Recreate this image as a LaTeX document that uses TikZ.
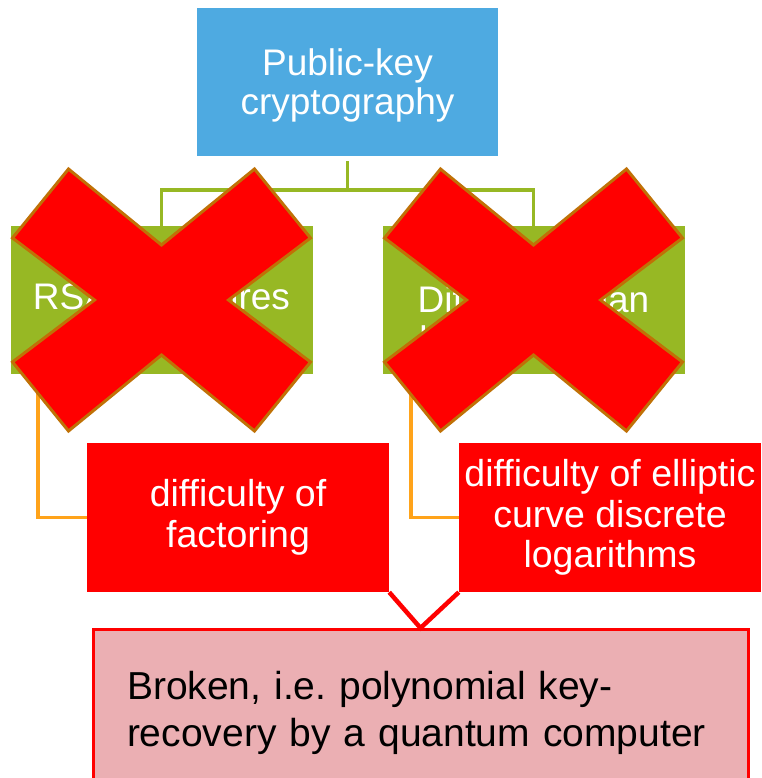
\documentclass[tikz,border=0pt]{standalone}
\usepackage{fontspec}
\setmainfont{Liberation Sans}
\frenchspacing
\definecolor{pkblue}{HTML}{4EAAE1}
\definecolor{pkgreen}{HTML}{97B824}
\definecolor{pkorange}{HTML}{FFA31A}
\definecolor{crossedge}{HTML}{C07106}
\definecolor{brokenfill}{HTML}{EBAFB3}

\begin{document}
\begin{tikzpicture}[x=1pt, y=-1pt,
  box/.style={rectangle, inner sep=0pt, minimum width=302pt, minimum height=148pt,
    text=white, align=center, font=\fontsize{37}{39}\selectfont},
  redbox/.style={box, fill=red, minimum height=149pt, font=\fontsize{37.5}{40.5}\selectfont},
  greenline/.style={draw=pkgreen, line width=3.5pt},
  orangeline/.style={draw=pkorange, line width=3.5pt},
  redline/.style={draw=red, line width=4.5pt},
  cross/.style={fill=red, draw=crossedge, line width=3pt, line join=miter}]
\useasboundingbox (0,0) rectangle (761,778);

\node[box, fill=pkblue, minimum width=301pt] (pkc) at (347.5,82) {};
\node[text=white, align=center, inner sep=0pt, font=\fontsize{37}{39}\selectfont]
  (pkctext) at (347.5,85) {Public-key\\cryptography};
\node[box, fill=pkgreen] (rsa) at (161.5,300) {RSA signatures};
\node[box, fill=pkgreen] (dh) at (533.5,300) {};
\node[text=white, align=center, anchor=north, inner sep=0pt,
  font=\fontsize{37}{40}\selectfont] (dhtext) at (533.5,285) {Diffie-Hellman\\key exchange};
\node[redbox] (fac) at (238,517.5) {difficulty of\\factoring};
\node[redbox] (ecdlp) at (610,517.5) {difficulty of elliptic\\curve discrete\\logarithms};
\node[fill=brokenfill, draw=red, line width=3pt, anchor=north, minimum width=655pt,
  minimum height=166pt, text width=587pt, inner xsep=34pt, align=left,
  font=\fontsize{39}{47}\selectfont] (broken) at (420.5,628)
  {Broken, i.e. polynomial key-\\recovery by a quantum computer};

\draw[greenline] ([yshift=-5pt]pkc.south) -- ++(0,29) coordinate (fork) -| (rsa.north);
\draw[greenline] (fork) -| (dh.north);
\draw[orangeline] ([xshift=-123.5pt]rsa.south) |- (fac.west);
\draw[orangeline] ([xshift=-122.5pt]dh.south) |- (ecdlp.west);

\foreach \b in {rsa,dh}
  \draw[cross, shift={(\b.center)}] (-93,-131) -- (0,-55) -- (93,-131) -- (149,-62)
    -- (67,0) -- (149,62) -- (93,131) -- (0,55) -- (-93,131) -- (-149,62)
    -- (-67,0) -- (-149,-62) -- cycle;

\draw[redline] (fac.south east) -- (broken.north) -- (ecdlp.south west);
\end{tikzpicture}
\end{document}
